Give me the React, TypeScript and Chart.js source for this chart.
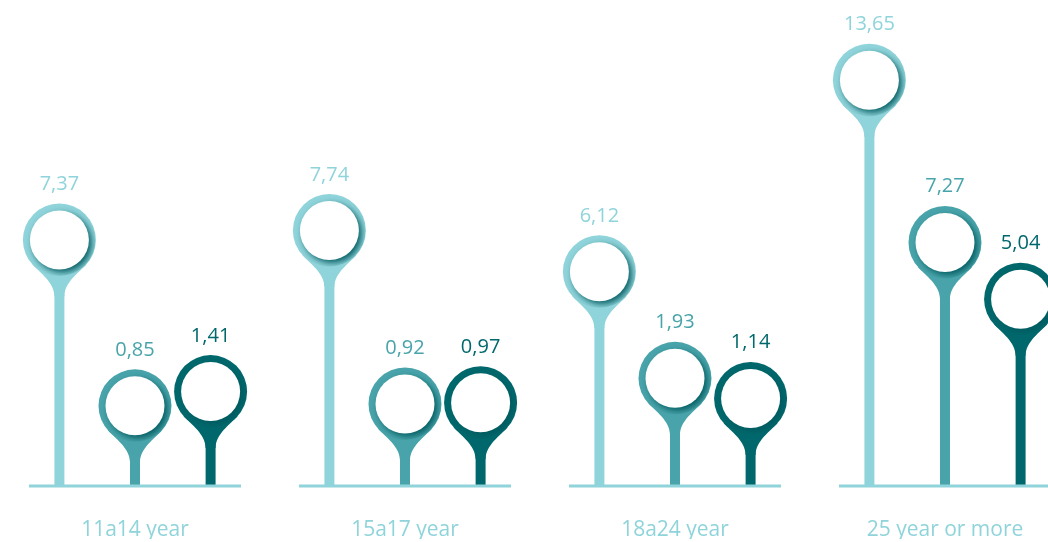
import React, { useEffect, useRef } from "react";
import { Chart, registerables } from "chart.js";

Chart.register(...registerables);

const categories = ["11a14 year", "15a17 year", "18a24 year", "25 year or more"];
const seriesA = [7.37, 7.74, 6.12, 13.65];
const seriesB = [0.85, 0.92, 1.93, 7.27];
const seriesC = [1.41, 0.97, 1.14, 5.04];
const seriesColors = ["#8fd4da", "#48a4aa", "#00686c"];
const Y_MIN = -2.3;
const Y_MAX = 16.8;

const FONT = "'Open Sans', 'Noto Sans', sans-serif";

function drawPin(ctx: CanvasRenderingContext2D, x: number, y: number, color: string) {
  const R = 36.5;
  const r = 29.5;
  const a = (48 * Math.PI) / 180;
  const px = R * Math.sin(a);
  const py = R * Math.cos(a);
  ctx.save();
  ctx.fillStyle = color;
  ctx.beginPath();
  ctx.arc(x, y, R, 0, Math.PI * 2);
  ctx.fill();
  ctx.beginPath();
  ctx.moveTo(x - px, y + py);
  ctx.bezierCurveTo(
    x - px + 11 * Math.cos(a), y + py + 11 * Math.sin(a),
    x - 5, y + R + 6,
    x - 5, y + R + 20
  );
  ctx.lineTo(x + 5, y + R + 20);
  ctx.bezierCurveTo(
    x + 5, y + R + 6,
    x + px - 11 * Math.cos(a), y + py + 11 * Math.sin(a),
    x + px, y + py
  );
  ctx.closePath();
  ctx.fill();
  ctx.beginPath();
  ctx.arc(x, y, R - 0.5, 0, Math.PI * 2);
  ctx.clip();
  ctx.shadowColor = "rgba(0, 90, 95, 0.95)";
  ctx.shadowBlur = 6;
  ctx.shadowOffsetX = 3;
  ctx.shadowOffsetY = 3;
  ctx.fillStyle = "#ffffff";
  ctx.beginPath();
  ctx.arc(x, y, r, 0, Math.PI * 2);
  ctx.fill();
  ctx.restore();
}

const pinPlugin = {
  id: "pins",
  afterDatasetsDraw(chart: any) {
    const ctx: CanvasRenderingContext2D = chart.ctx;
    const area = chart.chartArea;
    const xScale = chart.scales.x;
    ctx.save();
    ctx.strokeStyle = seriesColors[0];
    ctx.lineWidth = 3;
    categories.forEach((_, i) => {
      const cx = xScale.getPixelForValue(i);
      ctx.beginPath();
      ctx.moveTo(cx - 106, area.bottom);
      ctx.lineTo(cx + 106, area.bottom);
      ctx.stroke();
    });
    ctx.restore();
    chart.data.datasets.forEach((ds: any, di: number) => {
      const meta = chart.getDatasetMeta(di);
      meta.data.forEach((el: any, i: number) => {
        drawPin(ctx, el.x, el.y, seriesColors[di]);
        const v = ds.data[i] as number;
        ctx.save();
        ctx.fillStyle = seriesColors[di];
        ctx.font = `20px ${FONT}`;
        ctx.textAlign = "center";
        ctx.textBaseline = "alphabetic";
        ctx.fillText(v.toFixed(2).replace(".", ","), el.x, el.y - 50);
        ctx.restore();
      });
    });
  },
};

export default function App() {
  const ref = useRef<HTMLCanvasElement | null>(null);
  useEffect(() => {
    if (!ref.current) return;
    const mk = (label: string, data: number[], color: string) => ({
      label,
      data,
      backgroundColor: color,
      base: Y_MIN,
      categoryPercentage: 0.84,
      barPercentage: 0.132,
    });
    const chart = new Chart(ref.current, {
      type: "bar",
      data: {
        labels: categories,
        datasets: [
          mk("A", seriesA, seriesColors[0]),
          mk("B", seriesB, seriesColors[1]),
          mk("C", seriesC, seriesColors[2]),
        ] as any,
      },
      options: {
        animation: false,
        responsive: false,
        devicePixelRatio: 1,
        layout: { padding: { left: 0, right: 0, top: 0, bottom: 3 } },
        plugins: { legend: { display: false }, tooltip: { enabled: false } },
        scales: {
          x: {
            grid: { display: false, drawTicks: false },
            border: { display: false },
            ticks: {
              color: seriesColors[0],
              font: { family: FONT, size: 21 },
              padding: 31,
              maxRotation: 0,
            },
            afterFit(scale: any) {
              scale.height = 53;
            },
          },
          y: { display: false, min: Y_MIN, max: Y_MAX },
        },
      } as any,
      plugins: [pinPlugin],
    });
    return () => chart.destroy();
  }, []);
  return (
    <div
      style={{
        position: "fixed",
        left: 0,
        top: 0,
        width: 1048,
        height: 542,
        overflow: "hidden",
        background: "#ffffff",
      }}
    >
      <canvas
        ref={ref}
        width={1080}
        height={542}
        style={{ display: "block", width: 1080, height: 542 }}
      />
    </div>
  );
}
